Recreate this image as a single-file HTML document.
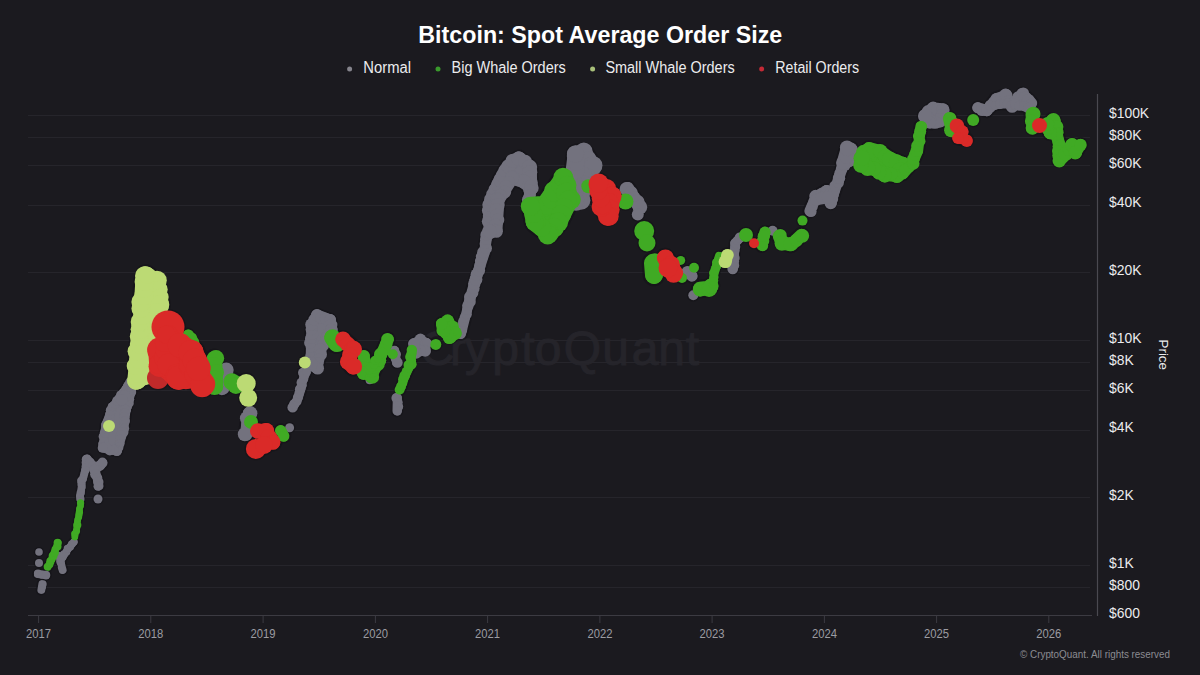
<!DOCTYPE html>
<html><head><meta charset="utf-8"><title>Bitcoin: Spot Average Order Size</title>
<style>html,body{margin:0;padding:0;background:#1b1a1f;width:1200px;height:675px;overflow:hidden}svg{display:block}text{font-family:"Liberation Sans",sans-serif}</style>
</head><body>
<svg width="1200" height="675" viewBox="0 0 1200 675" font-family="Liberation Sans, sans-serif">
<rect width="1200" height="675" fill="#1b1a1f"/>
<g font-size="48" fill="#25242a" stroke="#25242a" stroke-width="1" text-anchor="middle"><text x="437" y="365.3">C</text><text x="458" y="365.3">r</text><text x="477" y="365.3">y</text><text x="505.5" y="365.3">p</text><text x="528" y="365.3">t</text><text x="548" y="365.3">o</text><text x="582.5" y="365.3">Q</text><text x="615.5" y="365.3">u</text><text x="645" y="365.3">a</text><text x="671.5" y="365.3">n</text><text x="692.5" y="365.3">t</text></g>
<g stroke="#26252b" stroke-width="1"><line x1="28" y1="115.5" x2="1090" y2="115.5"/><line x1="28" y1="137.5" x2="1090" y2="137.5"/><line x1="28" y1="165.5" x2="1090" y2="165.5"/><line x1="28" y1="205.5" x2="1090" y2="205.5"/><line x1="28" y1="272.5" x2="1090" y2="272.5"/><line x1="28" y1="340.5" x2="1090" y2="340.5"/><line x1="28" y1="362.5" x2="1090" y2="362.5"/><line x1="28" y1="390.5" x2="1090" y2="390.5"/><line x1="28" y1="430.5" x2="1090" y2="430.5"/><line x1="28" y1="497.5" x2="1090" y2="497.5"/><line x1="28" y1="565.5" x2="1090" y2="565.5"/><line x1="28" y1="587.5" x2="1090" y2="587.5"/></g>
<g fill="none" stroke="#121116" stroke-linecap="round" stroke-linejoin="round" opacity="0.55"><path d="M39.0 552.0h0" stroke-width="10.2"/><path d="M39.0 563.0h0" stroke-width="10.6"/><path d="M38.0 574.0L46.0 575.0" stroke-width="11.6"/><path d="M42.0 584.0L41.0 590.0" stroke-width="10.6"/><path d="M48.0 567.0L53.0 556.0L58.0 543.0" stroke-width="10.6"/><path d="M59.0 556.0L63.0 570.0" stroke-width="10.6"/><path d="M61.0 560.0L68.0 549.0L74.0 542.0" stroke-width="10.6"/><path d="M75.0 537.0L77.0 525.0L79.0 512.0L81.0 503.0" stroke-width="9.6"/><path d="M80.0 499.0L82.0 481.0L85.0 470.0L87.0 459.0" stroke-width="10.6"/><path d="M87.0 459.0L95.0 470.0L103.0 463.0" stroke-width="12.6"/><path d="M95.0 470.0L99.0 486.0" stroke-width="12.6"/><path d="M98.0 499.0h0" stroke-width="11.6"/><path d="M103.0 448.0L106.0 425.0L113.0 407.0L122.0 396.0L128.0 386.0L133.0 379.0L131.0 392.0L126.0 410.0L123.0 432.0L117.0 451.0Z" fill="#121116" stroke-width="12.6"/><path d="M109.0 426.0h0" stroke-width="14.6"/><path d="M126.0 392.0L123.0 400.0" stroke-width="14.6"/><path d="M145.6 275.0L156.0 282.0L160.0 305.0L150.0 340.0L145.0 375.0L136.0 381.0L141.7 322.0L144.0 282.0Z" fill="#121116" stroke-width="21.6"/><path d="M158.0 378.0h0" stroke-width="24.6"/><path d="M159.0 350.0L160.0 365.0" stroke-width="26.6"/><path d="M168.0 327.0h0" stroke-width="35.6"/><path d="M168.0 335.0L190.0 355.0L202.0 380.0L178.0 378.0L160.0 365.0Z" fill="#121116" stroke-width="22.6"/><path d="M168.0 365.0L178.0 377.0L190.0 365.0L204.0 384.0" stroke-width="27.6"/><path d="M180.0 345.0L192.0 352.0L200.0 368.0" stroke-width="26.6"/><path d="M188.0 335.0L197.0 350.0" stroke-width="14.6"/><path d="M214.5 358.3L215.4 386.2" stroke-width="19.6"/><path d="M226.0 369.9L223.1 388.2" stroke-width="16.6"/><path d="M231.8 381.4L236.6 384.3" stroke-width="20.6"/><path d="M246.2 383.4h0" stroke-width="21.6"/><path d="M248.2 397.8h0" stroke-width="20.6"/><path d="M249.1 413.2L246.2 434.4" stroke-width="16.6"/><path d="M251.0 421.9h0" stroke-width="16.6"/><path d="M257.8 430.6L265.5 431.5L273.2 442.1" stroke-width="18.6"/><path d="M255.9 448.9h0" stroke-width="22.6"/><path d="M264.0 445.0h0" stroke-width="20.6"/><path d="M280.9 430.6L284.0 436.0" stroke-width="14.6"/><path d="M289.6 427.7h0" stroke-width="11.6"/><path d="M292.5 407.4L298.3 397.8L302.1 385.3" stroke-width="12.6"/><path d="M303.0 372.8h0" stroke-width="12.6"/><path d="M304.8 362.6h0" stroke-width="14.6"/><path d="M311.0 365.0L312.0 325.0L317.0 315.0L330.0 320.0L332.0 330.0L322.0 345.0L317.0 368.0Z" fill="#121116" stroke-width="14.6"/><path d="M302.0 383.0L306.0 372.0" stroke-width="12.6"/><path d="M331.7 337.6L336.0 344.0" stroke-width="19.6"/><path d="M342.8 339.4L353.0 348.7L348.3 361.7L353.0 367.2" stroke-width="18.6"/><path d="M364.0 356.1L364.0 372.8L371.5 376.5L378.9 359.8L388.1 339.4" stroke-width="15.6"/><path d="M370.0 370.0L382.0 352.0" stroke-width="12.6"/><path d="M369.6 380.2h0" stroke-width="10.6"/><path d="M394.6 350.6L396.5 362.6" stroke-width="12.6"/><path d="M392.8 354.3h0" stroke-width="12.6"/><path d="M397.3 398.0L397.0 411.0" stroke-width="12.6"/><path d="M400.0 390.0L405.0 376.0L410.7 364.0L412.0 350.0" stroke-width="12.6"/><path d="M408.5 365.0h0" stroke-width="12.6"/><path d="M414.0 344.0L420.0 340.0L426.0 343.0L425.0 350.0L416.0 352.0Z" fill="#121116" stroke-width="13.6"/><path d="M435.8 344.4h0" stroke-width="13.6"/><path d="M442.0 324.0L448.0 322.0L455.0 333.0L450.0 337.0L443.0 330.0Z" fill="#121116" stroke-width="15.6"/><path d="M461.0 334.0L468.1 306.0" stroke-width="13.6"/><path d="M468.1 306.0L475.6 279.3L484.4 252.6L487.0 235.0" stroke-width="14.6"/><path d="M490.0 232.0L490.0 205.0L500.0 180.0L508.0 166.0L519.0 158.0L530.0 167.0L531.0 188.0L524.0 182.0L512.0 178.0L498.0 200.0L496.0 230.0Z" fill="#121116" stroke-width="16.6"/><path d="M531.0 186.0L529.0 200.0" stroke-width="15.6"/><path d="M532.0 206.0L545.0 205.0L564.0 178.0L569.0 200.0L558.0 222.0L549.0 233.0L535.0 222.0Z" fill="#121116" stroke-width="22.6"/><path d="M576.0 154.0L584.0 153.0L592.0 166.0L586.0 176.0L580.0 200.0L576.0 200.0L574.0 170.0Z" fill="#121116" stroke-width="20.6"/><path d="M588.3 186.2h0" stroke-width="16.6"/><path d="M599.0 183.0L612.0 196.0L608.0 216.0L603.0 206.0Z" fill="#121116" stroke-width="21.6"/><path d="M627.8 188.2L639.4 207.4" stroke-width="16.6"/><path d="M625.5 201.5h0" stroke-width="18.6"/><path d="M637.8 214.4h0" stroke-width="14.6"/><path d="M644.2 231.0h0" stroke-width="22.6"/><path d="M647.0 243.0h0" stroke-width="19.6"/><path d="M653.0 263.0L654.0 275.0" stroke-width="22.6"/><path d="M665.0 258.0L675.0 273.0" stroke-width="20.6"/><path d="M668.0 268.0h0" stroke-width="21.6"/><path d="M680.7 260.4h0" stroke-width="11.6"/><path d="M682.0 278.0h0" stroke-width="12.6"/><path d="M687.0 272.0L692.0 276.0" stroke-width="14.6"/><path d="M694.0 267.8h0" stroke-width="12.6"/><path d="M700.0 289.0L709.0 288.0L711.0 286.0" stroke-width="18.6"/><path d="M693.3 295.2h0" stroke-width="12.6"/><path d="M712.0 284.0L716.0 266.0L719.0 256.0" stroke-width="11.6"/><path d="M727.0 255.0L726.0 262.0" stroke-width="15.6"/><path d="M733.0 269.0L735.0 243.0L740.0 238.0" stroke-width="12.6"/><path d="M746.0 235.0h0" stroke-width="16.6"/><path d="M762.0 245.6L765.0 232.2" stroke-width="14.6"/><path d="M754.0 243.3h0" stroke-width="12.6"/><path d="M772.6 230.7h0" stroke-width="12.6"/><path d="M764.0 236.0h0" stroke-width="14.6"/><path d="M779.0 236.0L782.0 243.0L791.0 245.0L801.5 235.0" stroke-width="16.6"/><path d="M802.5 220.6h0" stroke-width="12.6"/><path d="M809.8 211.0L816.0 196.8L826.4 190.5L830.5 203.0L838.8 178.0L845.0 160.0" stroke-width="14.6"/><path d="M847.0 149.0L851.0 149.0L850.0 160.0L843.0 163.0Z" fill="#121116" stroke-width="16.6"/><path d="M816.0 200.0L828.0 198.0" stroke-width="14.6"/><path d="M861.0 158.0L869.0 149.0L880.0 152.0L890.0 159.0L903.0 164.0L897.0 175.0L885.0 174.0L874.0 169.0L862.0 165.0Z" fill="#121116" stroke-width="17.6"/><path d="M903.0 174.0L912.3 163.3L917.7 151.0L920.8 126.3" stroke-width="14.6"/><path d="M925.0 116.0L933.0 109.0L943.0 110.0L940.0 121.0L930.0 122.0Z" fill="#121116" stroke-width="16.6"/><path d="M949.3 118.5L952.0 130.0" stroke-width="16.6"/><path d="M956.3 126.3L962.0 132.0" stroke-width="16.6"/><path d="M967.0 140.0L958.0 138.0" stroke-width="14.6"/><path d="M973.2 120.0h0" stroke-width="14.6"/><path d="M977.8 107.8L987.0 110.8L996.3 98.5L1005.6 95.4L1011.8 106.2L1022.5 93.9L1031.8 103.0" stroke-width="14.6"/><path d="M990.0 106.0L1000.0 104.0L1015.0 104.0L1028.0 108.0" stroke-width="12.6"/><path d="M1031.8 114.0L1033.0 128.0" stroke-width="16.6"/><path d="M1039.5 125.5h0" stroke-width="17.6"/><path d="M1051.8 120.0L1056.5 132.4L1059.6 146.3L1058.8 160.2L1065.7 154.0L1071.9 144.8L1075.7 152.5L1080.4 144.8" stroke-width="15.6"/><path d="M1048.0 124.0L1054.0 121.0L1057.0 133.0L1050.0 133.0Z" fill="#121116" stroke-width="15.6"/></g>
<g fill="none" stroke="#73727e" stroke-linecap="round" stroke-linejoin="round"><path d="M38.0 574.0L46.0 575.0" stroke-width="8.1"/><path d="M42.0 584.0L41.0 590.0" stroke-width="7.2"/><path d="M59.0 556.0L63.0 570.0" stroke-width="7.2"/><path d="M61.0 560.0L68.0 549.0L74.0 542.0" stroke-width="7.2"/><path d="M80.0 499.0L82.0 481.0L85.0 470.0L87.0 459.0" stroke-width="7.2"/><path d="M87.0 459.0L95.0 470.0L103.0 463.0" stroke-width="9.0"/><path d="M95.0 470.0L99.0 486.0" stroke-width="9.0"/><path d="M103.0 448.0L106.0 425.0L113.0 407.0L122.0 396.0L128.0 386.0L133.0 379.0L131.0 392.0L126.0 410.0L123.0 432.0L117.0 451.0Z" fill="#73727e" stroke-width="9.2"/><path d="M126.0 392.0L123.0 400.0" stroke-width="10.8"/><path d="M226.0 369.9L223.1 388.2" stroke-width="12.6"/><path d="M249.1 413.2L246.2 434.4" stroke-width="12.6"/><path d="M292.5 407.4L298.3 397.8L302.1 385.3" stroke-width="9.0"/><path d="M311.0 365.0L312.0 325.0L317.0 315.0L330.0 320.0L332.0 330.0L322.0 345.0L317.0 368.0Z" fill="#73727e" stroke-width="11.0"/><path d="M302.0 383.0L306.0 372.0" stroke-width="9.0"/><path d="M394.6 350.6L396.5 362.6" stroke-width="9.0"/><path d="M397.3 398.0L397.0 411.0" stroke-width="9.0"/><path d="M414.0 344.0L420.0 340.0L426.0 343.0L425.0 350.0L416.0 352.0Z" fill="#73727e" stroke-width="10.1"/><path d="M461.0 334.0L468.1 306.0" stroke-width="9.9"/><path d="M468.1 306.0L475.6 279.3L484.4 252.6L487.0 235.0" stroke-width="10.8"/><path d="M490.0 232.0L490.0 205.0L500.0 180.0L508.0 166.0L519.0 158.0L530.0 167.0L531.0 188.0L524.0 182.0L512.0 178.0L498.0 200.0L496.0 230.0Z" fill="#73727e" stroke-width="12.9"/><path d="M531.0 186.0L529.0 200.0" stroke-width="11.7"/><path d="M576.0 154.0L584.0 153.0L592.0 166.0L586.0 176.0L580.0 200.0L576.0 200.0L574.0 170.0Z" fill="#73727e" stroke-width="16.6"/><path d="M627.8 188.2L639.4 207.4" stroke-width="12.6"/><path d="M687.0 272.0L692.0 276.0" stroke-width="10.8"/><path d="M733.0 269.0L735.0 243.0L740.0 238.0" stroke-width="9.0"/><path d="M809.8 211.0L816.0 196.8L826.4 190.5L830.5 203.0L838.8 178.0L845.0 160.0" stroke-width="10.8"/><path d="M847.0 149.0L851.0 149.0L850.0 160.0L843.0 163.0Z" fill="#73727e" stroke-width="12.9"/><path d="M816.0 200.0L828.0 198.0" stroke-width="10.8"/><path d="M925.0 116.0L933.0 109.0L943.0 110.0L940.0 121.0L930.0 122.0Z" fill="#73727e" stroke-width="12.9"/><path d="M977.8 107.8L987.0 110.8L996.3 98.5L1005.6 95.4L1011.8 106.2L1022.5 93.9L1031.8 103.0" stroke-width="10.8"/><path d="M990.0 106.0L1000.0 104.0L1015.0 104.0L1028.0 108.0" stroke-width="9.0"/></g>
<g fill="#73727e"><circle cx="39.0" cy="552.0" r="3.8"/><circle cx="39.0" cy="563.0" r="4.0"/><circle cx="38.0" cy="573.7" r="4.1"/><circle cx="42.0" cy="574.8" r="4.0"/><circle cx="46.0" cy="575.1" r="4.3"/><circle cx="42.8" cy="584.1" r="3.9"/><circle cx="42.3" cy="587.1" r="3.8"/><circle cx="41.7" cy="590.1" r="3.6"/><circle cx="59.1" cy="556.0" r="4.1"/><circle cx="60.4" cy="558.6" r="3.7"/><circle cx="60.4" cy="561.7" r="4.2"/><circle cx="61.3" cy="564.4" r="3.8"/><circle cx="61.4" cy="567.4" r="3.6"/><circle cx="62.4" cy="570.2" r="3.7"/><circle cx="60.5" cy="559.7" r="3.6"/><circle cx="62.5" cy="557.1" r="4.1"/><circle cx="64.0" cy="554.2" r="3.9"/><circle cx="66.5" cy="551.9" r="3.8"/><circle cx="68.1" cy="549.0" r="3.6"/><circle cx="67.4" cy="548.5" r="3.7"/><circle cx="70.2" cy="546.9" r="3.8"/><circle cx="71.8" cy="544.1" r="3.9"/><circle cx="73.9" cy="541.9" r="3.7"/><circle cx="80.5" cy="499.1" r="4.0"/><circle cx="79.9" cy="496.0" r="3.9"/><circle cx="80.7" cy="493.0" r="4.2"/><circle cx="81.4" cy="490.0" r="3.7"/><circle cx="82.2" cy="487.1" r="3.6"/><circle cx="81.5" cy="484.0" r="4.1"/><circle cx="81.4" cy="480.9" r="3.9"/><circle cx="81.2" cy="480.8" r="4.0"/><circle cx="83.2" cy="478.4" r="3.9"/><circle cx="84.1" cy="475.7" r="3.7"/><circle cx="84.6" cy="472.8" r="3.9"/><circle cx="85.1" cy="470.0" r="3.8"/><circle cx="85.6" cy="470.1" r="4.2"/><circle cx="85.6" cy="466.3" r="4.0"/><circle cx="85.6" cy="462.5" r="4.0"/><circle cx="87.3" cy="459.0" r="4.2"/><circle cx="86.4" cy="459.4" r="4.7"/><circle cx="89.9" cy="462.5" r="5.0"/><circle cx="93.2" cy="465.7" r="4.8"/><circle cx="95.6" cy="469.6" r="4.5"/><circle cx="94.4" cy="469.3" r="5.1"/><circle cx="97.1" cy="467.1" r="4.6"/><circle cx="100.2" cy="465.2" r="5.2"/><circle cx="102.4" cy="462.3" r="4.8"/><circle cx="94.9" cy="470.0" r="5.2"/><circle cx="95.3" cy="474.2" r="5.2"/><circle cx="97.5" cy="477.9" r="4.8"/><circle cx="98.3" cy="481.9" r="5.2"/><circle cx="98.0" cy="486.2" r="4.5"/><circle cx="98.0" cy="499.0" r="4.5"/><circle cx="102.3" cy="447.9" r="4.6"/><circle cx="102.9" cy="444.1" r="4.8"/><circle cx="104.2" cy="440.4" r="4.6"/><circle cx="103.4" cy="436.4" r="4.8"/><circle cx="104.7" cy="432.6" r="4.9"/><circle cx="106.5" cy="429.0" r="5.0"/><circle cx="106.0" cy="425.0" r="5.0"/><circle cx="106.4" cy="425.1" r="4.4"/><circle cx="108.2" cy="421.7" r="5.1"/><circle cx="109.6" cy="418.1" r="5.1"/><circle cx="110.0" cy="414.1" r="4.8"/><circle cx="110.8" cy="410.3" r="5.0"/><circle cx="112.1" cy="406.7" r="4.5"/><circle cx="112.5" cy="406.6" r="4.5"/><circle cx="115.0" cy="404.0" r="4.4"/><circle cx="116.6" cy="400.8" r="4.5"/><circle cx="119.1" cy="398.2" r="4.7"/><circle cx="121.2" cy="395.3" r="5.2"/><circle cx="122.2" cy="396.1" r="4.5"/><circle cx="123.5" cy="392.4" r="4.7"/><circle cx="125.7" cy="389.2" r="4.5"/><circle cx="128.7" cy="386.4" r="5.3"/><circle cx="127.9" cy="386.0" r="4.8"/><circle cx="129.8" cy="382.0" r="4.5"/><circle cx="132.7" cy="378.8" r="4.6"/><circle cx="132.3" cy="378.9" r="4.5"/><circle cx="133.4" cy="383.5" r="5.3"/><circle cx="131.6" cy="387.7" r="4.5"/><circle cx="130.9" cy="392.0" r="4.4"/><circle cx="130.9" cy="392.0" r="5.3"/><circle cx="129.2" cy="395.4" r="5.0"/><circle cx="129.5" cy="399.3" r="4.7"/><circle cx="128.7" cy="403.0" r="5.1"/><circle cx="126.9" cy="406.4" r="5.1"/><circle cx="126.4" cy="410.1" r="4.6"/><circle cx="125.3" cy="409.9" r="5.3"/><circle cx="124.7" cy="413.6" r="5.1"/><circle cx="124.3" cy="417.2" r="5.1"/><circle cx="125.1" cy="421.1" r="4.9"/><circle cx="124.3" cy="424.7" r="4.4"/><circle cx="124.5" cy="428.5" r="4.7"/><circle cx="123.5" cy="432.1" r="5.0"/><circle cx="122.0" cy="431.7" r="4.8"/><circle cx="120.9" cy="435.5" r="5.3"/><circle cx="119.6" cy="439.3" r="4.7"/><circle cx="120.0" cy="443.6" r="4.6"/><circle cx="118.8" cy="447.4" r="4.6"/><circle cx="116.7" cy="450.9" r="5.2"/><circle cx="117.2" cy="450.3" r="4.8"/><circle cx="113.6" cy="449.9" r="5.1"/><circle cx="109.8" cy="450.4" r="5.0"/><circle cx="106.7" cy="447.9" r="5.1"/><circle cx="103.1" cy="447.5" r="4.8"/><circle cx="126.8" cy="392.3" r="6.1"/><circle cx="124.9" cy="396.2" r="6.1"/><circle cx="121.8" cy="399.6" r="5.7"/><circle cx="226.3" cy="369.9" r="7.4"/><circle cx="224.3" cy="375.9" r="6.4"/><circle cx="225.2" cy="382.3" r="6.4"/><circle cx="221.9" cy="388.0" r="7.2"/><circle cx="250.2" cy="413.3" r="7.2"/><circle cx="246.9" cy="418.3" r="7.0"/><circle cx="248.1" cy="423.9" r="6.9"/><circle cx="248.1" cy="429.3" r="6.2"/><circle cx="244.8" cy="434.2" r="7.0"/><circle cx="289.6" cy="427.7" r="4.5"/><circle cx="292.6" cy="407.4" r="5.2"/><circle cx="294.3" cy="404.1" r="5.2"/><circle cx="297.0" cy="401.4" r="4.6"/><circle cx="297.8" cy="397.5" r="4.7"/><circle cx="297.8" cy="397.6" r="4.9"/><circle cx="299.1" cy="393.5" r="4.8"/><circle cx="300.1" cy="389.2" r="5.2"/><circle cx="301.8" cy="385.2" r="4.8"/><circle cx="303.0" cy="372.8" r="5.0"/><circle cx="311.2" cy="365.0" r="6.3"/><circle cx="310.9" cy="360.6" r="6.3"/><circle cx="311.2" cy="356.1" r="5.9"/><circle cx="311.4" cy="351.7" r="5.3"/><circle cx="311.3" cy="347.2" r="5.5"/><circle cx="310.2" cy="342.7" r="6.1"/><circle cx="310.8" cy="338.3" r="5.8"/><circle cx="312.4" cy="333.9" r="5.9"/><circle cx="311.4" cy="329.4" r="5.8"/><circle cx="312.1" cy="325.0" r="6.1"/><circle cx="311.1" cy="324.5" r="5.9"/><circle cx="313.9" cy="319.7" r="5.6"/><circle cx="317.6" cy="315.3" r="5.8"/><circle cx="316.9" cy="315.2" r="6.1"/><circle cx="320.9" cy="317.7" r="5.8"/><circle cx="325.6" cy="318.6" r="5.8"/><circle cx="330.0" cy="320.0" r="6.0"/><circle cx="330.1" cy="320.0" r="5.9"/><circle cx="331.1" cy="325.0" r="6.3"/><circle cx="331.5" cy="330.1" r="6.2"/><circle cx="331.0" cy="329.4" r="5.6"/><circle cx="329.4" cy="333.7" r="6.3"/><circle cx="326.3" cy="337.0" r="5.4"/><circle cx="325.3" cy="341.8" r="5.8"/><circle cx="322.9" cy="345.6" r="5.5"/><circle cx="323.1" cy="345.2" r="6.0"/><circle cx="320.3" cy="349.4" r="6.2"/><circle cx="320.9" cy="354.4" r="6.1"/><circle cx="318.6" cy="358.7" r="5.4"/><circle cx="317.0" cy="363.2" r="6.3"/><circle cx="317.7" cy="368.2" r="6.3"/><circle cx="316.9" cy="368.2" r="5.8"/><circle cx="311.6" cy="363.8" r="6.2"/><circle cx="301.3" cy="382.7" r="4.8"/><circle cx="303.4" cy="379.3" r="4.7"/><circle cx="304.0" cy="375.4" r="4.7"/><circle cx="306.5" cy="372.2" r="4.4"/><circle cx="369.6" cy="380.2" r="4.0"/><circle cx="394.5" cy="350.6" r="4.8"/><circle cx="396.3" cy="354.4" r="4.7"/><circle cx="395.6" cy="358.6" r="4.9"/><circle cx="397.4" cy="362.5" r="5.3"/><circle cx="396.7" cy="398.0" r="5.3"/><circle cx="398.1" cy="402.4" r="4.6"/><circle cx="398.1" cy="406.7" r="5.1"/><circle cx="397.5" cy="411.0" r="4.5"/><circle cx="413.9" cy="343.8" r="5.7"/><circle cx="420.4" cy="340.6" r="5.1"/><circle cx="420.4" cy="339.2" r="5.7"/><circle cx="425.9" cy="343.2" r="5.5"/><circle cx="427.0" cy="343.1" r="4.9"/><circle cx="424.5" cy="349.9" r="5.3"/><circle cx="425.2" cy="351.0" r="5.8"/><circle cx="420.4" cy="350.7" r="5.6"/><circle cx="416.2" cy="353.0" r="5.7"/><circle cx="415.0" cy="352.3" r="5.7"/><circle cx="414.9" cy="348.0" r="5.2"/><circle cx="414.1" cy="344.0" r="5.8"/><circle cx="460.5" cy="333.9" r="5.0"/><circle cx="462.1" cy="330.0" r="5.1"/><circle cx="462.1" cy="325.8" r="5.0"/><circle cx="463.0" cy="321.7" r="5.0"/><circle cx="464.6" cy="317.9" r="5.1"/><circle cx="466.7" cy="314.2" r="5.1"/><circle cx="467.1" cy="310.0" r="5.0"/><circle cx="467.7" cy="305.9" r="4.9"/><circle cx="467.5" cy="305.8" r="5.3"/><circle cx="469.9" cy="301.7" r="5.9"/><circle cx="469.8" cy="296.9" r="5.8"/><circle cx="473.0" cy="293.0" r="5.4"/><circle cx="473.9" cy="288.4" r="5.7"/><circle cx="474.3" cy="283.7" r="6.2"/><circle cx="475.3" cy="279.2" r="5.8"/><circle cx="476.1" cy="279.5" r="6.3"/><circle cx="476.7" cy="274.7" r="6.2"/><circle cx="479.1" cy="270.6" r="6.0"/><circle cx="479.8" cy="265.9" r="5.7"/><circle cx="480.3" cy="261.1" r="5.4"/><circle cx="481.9" cy="256.7" r="6.1"/><circle cx="483.8" cy="252.4" r="5.5"/><circle cx="483.3" cy="252.4" r="6.2"/><circle cx="486.0" cy="248.3" r="6.0"/><circle cx="485.1" cy="243.7" r="5.5"/><circle cx="485.8" cy="239.3" r="5.8"/><circle cx="486.1" cy="234.9" r="5.8"/><circle cx="489.3" cy="232.0" r="7.4"/><circle cx="491.5" cy="226.6" r="6.8"/><circle cx="489.2" cy="221.2" r="7.4"/><circle cx="489.4" cy="215.8" r="6.6"/><circle cx="488.5" cy="210.4" r="6.6"/><circle cx="489.9" cy="205.0" r="6.8"/><circle cx="489.1" cy="204.7" r="6.8"/><circle cx="490.6" cy="199.4" r="6.5"/><circle cx="492.8" cy="194.5" r="6.7"/><circle cx="494.7" cy="189.5" r="6.2"/><circle cx="497.4" cy="184.8" r="6.5"/><circle cx="500.2" cy="180.1" r="6.8"/><circle cx="500.7" cy="180.4" r="7.0"/><circle cx="503.2" cy="175.7" r="7.3"/><circle cx="505.0" cy="170.5" r="6.6"/><circle cx="509.3" cy="166.7" r="6.3"/><circle cx="508.4" cy="166.6" r="7.0"/><circle cx="512.7" cy="160.9" r="7.2"/><circle cx="519.7" cy="159.0" r="7.0"/><circle cx="518.5" cy="158.6" r="7.2"/><circle cx="525.2" cy="161.6" r="6.8"/><circle cx="530.0" cy="167.0" r="7.2"/><circle cx="529.1" cy="167.0" r="7.2"/><circle cx="530.0" cy="172.3" r="7.3"/><circle cx="529.9" cy="177.5" r="7.0"/><circle cx="531.6" cy="182.7" r="6.2"/><circle cx="532.1" cy="187.9" r="6.6"/><circle cx="530.2" cy="188.9" r="7.2"/><circle cx="524.1" cy="181.9" r="7.0"/><circle cx="524.1" cy="181.6" r="7.0"/><circle cx="518.0" cy="180.0" r="6.2"/><circle cx="512.3" cy="177.1" r="7.1"/><circle cx="512.0" cy="178.0" r="6.8"/><circle cx="508.8" cy="182.1" r="6.2"/><circle cx="505.8" cy="186.4" r="6.5"/><circle cx="504.7" cy="191.9" r="6.5"/><circle cx="500.2" cy="195.2" r="6.4"/><circle cx="497.4" cy="199.6" r="7.4"/><circle cx="498.0" cy="200.0" r="6.6"/><circle cx="497.7" cy="205.0" r="7.0"/><circle cx="496.5" cy="209.9" r="6.9"/><circle cx="496.6" cy="215.0" r="6.3"/><circle cx="497.8" cy="220.1" r="6.5"/><circle cx="495.6" cy="225.0" r="6.5"/><circle cx="495.8" cy="230.0" r="6.2"/><circle cx="496.4" cy="231.3" r="6.5"/><circle cx="489.8" cy="231.5" r="7.0"/><circle cx="530.5" cy="185.9" r="6.1"/><circle cx="530.3" cy="190.7" r="6.3"/><circle cx="529.8" cy="195.3" r="5.9"/><circle cx="527.9" cy="199.8" r="6.0"/><circle cx="576.2" cy="155.9" r="9.4"/><circle cx="583.8" cy="151.1" r="8.7"/><circle cx="582.9" cy="153.7" r="9.5"/><circle cx="588.2" cy="159.4" r="8.4"/><circle cx="593.0" cy="165.4" r="9.5"/><circle cx="593.0" cy="166.6" r="8.9"/><circle cx="587.2" cy="176.7" r="8.8"/><circle cx="584.3" cy="175.6" r="8.1"/><circle cx="582.8" cy="183.7" r="8.7"/><circle cx="580.5" cy="191.6" r="9.1"/><circle cx="581.0" cy="200.3" r="9.4"/><circle cx="580.0" cy="200.1" r="8.0"/><circle cx="576.0" cy="202.0" r="8.7"/><circle cx="575.8" cy="200.0" r="8.4"/><circle cx="574.1" cy="192.6" r="8.5"/><circle cx="574.3" cy="185.0" r="9.3"/><circle cx="572.5" cy="177.6" r="9.1"/><circle cx="575.3" cy="169.9" r="8.1"/><circle cx="575.7" cy="170.2" r="9.1"/><circle cx="576.6" cy="162.2" r="8.4"/><circle cx="575.5" cy="153.9" r="8.6"/><circle cx="626.5" cy="189.0" r="6.9"/><circle cx="631.1" cy="192.8" r="6.7"/><circle cx="634.2" cy="197.4" r="6.2"/><circle cx="637.5" cy="202.0" r="7.2"/><circle cx="640.0" cy="207.1" r="7.3"/><circle cx="637.8" cy="214.4" r="6.0"/><circle cx="687.4" cy="271.5" r="5.6"/><circle cx="692.0" cy="276.0" r="5.5"/><circle cx="693.3" cy="295.2" r="5.0"/><circle cx="732.7" cy="269.0" r="5.3"/><circle cx="734.1" cy="265.4" r="5.1"/><circle cx="733.9" cy="261.6" r="5.2"/><circle cx="734.8" cy="257.9" r="4.9"/><circle cx="734.6" cy="254.2" r="4.4"/><circle cx="734.9" cy="250.5" r="4.8"/><circle cx="735.3" cy="246.8" r="5.0"/><circle cx="734.5" cy="243.0" r="4.4"/><circle cx="735.7" cy="243.7" r="4.5"/><circle cx="737.5" cy="240.5" r="4.7"/><circle cx="739.7" cy="237.7" r="5.1"/><circle cx="772.6" cy="230.7" r="5.0"/><circle cx="811.0" cy="211.5" r="5.6"/><circle cx="812.2" cy="206.4" r="5.6"/><circle cx="814.1" cy="201.6" r="5.7"/><circle cx="815.2" cy="196.4" r="5.5"/><circle cx="815.6" cy="196.1" r="6.3"/><circle cx="821.2" cy="193.6" r="5.5"/><circle cx="827.0" cy="191.4" r="6.4"/><circle cx="826.5" cy="190.5" r="5.4"/><circle cx="828.5" cy="194.4" r="5.4"/><circle cx="829.5" cy="198.7" r="5.4"/><circle cx="831.2" cy="202.8" r="5.6"/><circle cx="830.7" cy="203.1" r="6.2"/><circle cx="832.5" cy="199.0" r="5.7"/><circle cx="833.1" cy="194.6" r="5.8"/><circle cx="834.3" cy="190.4" r="5.6"/><circle cx="834.9" cy="186.0" r="5.6"/><circle cx="838.6" cy="182.6" r="5.4"/><circle cx="838.8" cy="178.0" r="6.0"/><circle cx="839.7" cy="178.3" r="5.5"/><circle cx="839.8" cy="173.3" r="5.5"/><circle cx="841.6" cy="168.9" r="5.8"/><circle cx="844.6" cy="164.9" r="6.2"/><circle cx="845.9" cy="160.3" r="5.3"/><circle cx="847.0" cy="147.6" r="7.1"/><circle cx="851.0" cy="150.2" r="6.8"/><circle cx="850.7" cy="149.0" r="6.2"/><circle cx="850.8" cy="154.5" r="7.3"/><circle cx="849.0" cy="159.9" r="7.2"/><circle cx="849.4" cy="158.7" r="6.5"/><circle cx="843.5" cy="164.1" r="6.4"/><circle cx="843.1" cy="163.0" r="7.0"/><circle cx="846.3" cy="156.4" r="7.1"/><circle cx="847.4" cy="149.1" r="7.1"/><circle cx="816.0" cy="199.9" r="5.9"/><circle cx="821.8" cy="197.8" r="6.1"/><circle cx="827.9" cy="197.3" r="6.3"/><circle cx="925.3" cy="116.3" r="6.5"/><circle cx="928.2" cy="111.6" r="6.5"/><circle cx="933.3" cy="109.3" r="7.0"/><circle cx="933.1" cy="107.8" r="6.2"/><circle cx="938.0" cy="109.6" r="6.9"/><circle cx="943.0" cy="109.7" r="6.4"/><circle cx="942.7" cy="109.9" r="6.2"/><circle cx="942.1" cy="115.7" r="6.7"/><circle cx="938.6" cy="120.6" r="7.0"/><circle cx="939.9" cy="119.8" r="6.8"/><circle cx="935.1" cy="122.3" r="6.5"/><circle cx="929.9" cy="120.6" r="7.0"/><circle cx="929.5" cy="122.4" r="6.2"/><circle cx="925.0" cy="116.0" r="7.0"/><circle cx="977.9" cy="107.6" r="5.6"/><circle cx="982.3" cy="109.7" r="6.3"/><circle cx="987.2" cy="110.1" r="5.3"/><circle cx="986.7" cy="110.5" r="5.7"/><circle cx="990.5" cy="107.0" r="5.5"/><circle cx="993.8" cy="103.1" r="6.1"/><circle cx="996.3" cy="98.5" r="5.5"/><circle cx="996.7" cy="99.7" r="5.6"/><circle cx="1001.2" cy="97.8" r="5.5"/><circle cx="1005.4" cy="94.7" r="6.1"/><circle cx="1006.1" cy="95.1" r="6.3"/><circle cx="1008.7" cy="100.8" r="5.5"/><circle cx="1012.4" cy="105.8" r="5.7"/><circle cx="1012.1" cy="106.5" r="6.3"/><circle cx="1014.7" cy="101.5" r="5.7"/><circle cx="1018.4" cy="97.5" r="6.3"/><circle cx="1021.8" cy="93.3" r="5.3"/><circle cx="1023.3" cy="93.1" r="5.7"/><circle cx="1024.9" cy="97.7" r="6.2"/><circle cx="1028.3" cy="100.4" r="6.4"/><circle cx="1031.0" cy="103.8" r="5.6"/><circle cx="989.9" cy="105.3" r="5.2"/><circle cx="995.1" cy="105.5" r="4.4"/><circle cx="1000.1" cy="104.4" r="4.7"/><circle cx="1000.0" cy="103.7" r="4.7"/><circle cx="1003.8" cy="103.3" r="4.4"/><circle cx="1007.5" cy="103.5" r="4.7"/><circle cx="1011.2" cy="105.0" r="4.5"/><circle cx="1015.0" cy="105.0" r="4.6"/><circle cx="1015.1" cy="103.7" r="5.1"/><circle cx="1019.1" cy="106.0" r="4.8"/><circle cx="1024.0" cy="105.7" r="4.8"/><circle cx="1028.1" cy="107.7" r="5.2"/></g>
<g fill="none" stroke="#40aa24" stroke-linecap="round" stroke-linejoin="round"><path d="M48.0 567.0L53.0 556.0L58.0 543.0" stroke-width="7.2"/><path d="M75.0 537.0L77.0 525.0L79.0 512.0L81.0 503.0" stroke-width="6.3"/><path d="M188.0 335.0L197.0 350.0" stroke-width="10.8"/><path d="M214.5 358.3L215.4 386.2" stroke-width="15.3"/><path d="M231.8 381.4L236.6 384.3" stroke-width="16.2"/><path d="M280.9 430.6L284.0 436.0" stroke-width="10.8"/><path d="M331.7 337.6L336.0 344.0" stroke-width="15.3"/><path d="M364.0 356.1L364.0 372.8L371.5 376.5L378.9 359.8L388.1 339.4" stroke-width="11.7"/><path d="M370.0 370.0L382.0 352.0" stroke-width="9.0"/><path d="M400.0 390.0L405.0 376.0L410.7 364.0L412.0 350.0" stroke-width="9.0"/><path d="M442.0 324.0L448.0 322.0L455.0 333.0L450.0 337.0L443.0 330.0Z" fill="#40aa24" stroke-width="12.0"/><path d="M532.0 206.0L545.0 205.0L564.0 178.0L569.0 200.0L558.0 222.0L549.0 233.0L535.0 222.0Z" fill="#40aa24" stroke-width="18.4"/><path d="M653.0 263.0L654.0 275.0" stroke-width="18.0"/><path d="M700.0 289.0L709.0 288.0L711.0 286.0" stroke-width="14.4"/><path d="M712.0 284.0L716.0 266.0L719.0 256.0" stroke-width="8.1"/><path d="M762.0 245.6L765.0 232.2" stroke-width="10.8"/><path d="M779.0 236.0L782.0 243.0L791.0 245.0L801.5 235.0" stroke-width="12.6"/><path d="M861.0 158.0L869.0 149.0L880.0 152.0L890.0 159.0L903.0 164.0L897.0 175.0L885.0 174.0L874.0 169.0L862.0 165.0Z" fill="#40aa24" stroke-width="13.8"/><path d="M903.0 174.0L912.3 163.3L917.7 151.0L920.8 126.3" stroke-width="10.8"/><path d="M949.3 118.5L952.0 130.0" stroke-width="12.6"/><path d="M1031.8 114.0L1033.0 128.0" stroke-width="12.6"/><path d="M1051.8 120.0L1056.5 132.4L1059.6 146.3L1058.8 160.2L1065.7 154.0L1071.9 144.8L1075.7 152.5L1080.4 144.8" stroke-width="11.7"/><path d="M1048.0 124.0L1054.0 121.0L1057.0 133.0L1050.0 133.0Z" fill="#40aa24" stroke-width="12.0"/></g>
<g fill="#40aa24"><circle cx="47.5" cy="566.8" r="3.8"/><circle cx="49.9" cy="564.5" r="3.5"/><circle cx="50.4" cy="561.4" r="4.1"/><circle cx="52.2" cy="558.9" r="3.5"/><circle cx="52.3" cy="555.7" r="3.6"/><circle cx="53.7" cy="556.3" r="3.7"/><circle cx="54.7" cy="552.9" r="4.2"/><circle cx="55.2" cy="549.4" r="3.7"/><circle cx="57.5" cy="546.5" r="4.0"/><circle cx="57.6" cy="542.8" r="4.0"/><circle cx="74.7" cy="537.0" r="3.3"/><circle cx="74.7" cy="533.9" r="3.6"/><circle cx="76.6" cy="531.1" r="3.5"/><circle cx="77.2" cy="528.1" r="3.1"/><circle cx="76.6" cy="524.9" r="3.4"/><circle cx="77.7" cy="525.1" r="3.7"/><circle cx="77.2" cy="522.4" r="3.2"/><circle cx="77.7" cy="519.8" r="3.4"/><circle cx="78.9" cy="517.3" r="3.2"/><circle cx="79.1" cy="514.7" r="3.5"/><circle cx="79.5" cy="512.1" r="3.6"/><circle cx="79.2" cy="512.0" r="3.3"/><circle cx="79.4" cy="508.9" r="3.3"/><circle cx="80.8" cy="506.1" r="3.1"/><circle cx="80.5" cy="502.9" r="3.6"/><circle cx="188.6" cy="334.7" r="5.3"/><circle cx="191.3" cy="338.1" r="5.9"/><circle cx="192.9" cy="342.3" r="6.3"/><circle cx="193.9" cy="346.8" r="6.3"/><circle cx="197.5" cy="349.7" r="5.4"/><circle cx="216.0" cy="358.3" r="8.2"/><circle cx="213.9" cy="365.3" r="8.2"/><circle cx="215.9" cy="372.2" r="8.1"/><circle cx="214.7" cy="379.2" r="8.5"/><circle cx="214.5" cy="386.2" r="8.8"/><circle cx="231.5" cy="382.0" r="8.1"/><circle cx="235.9" cy="385.5" r="8.4"/><circle cx="251.0" cy="421.9" r="7.0"/><circle cx="280.7" cy="430.7" r="5.7"/><circle cx="283.5" cy="436.3" r="5.5"/><circle cx="332.5" cy="337.1" r="7.9"/><circle cx="337.1" cy="343.3" r="8.8"/><circle cx="363.8" cy="356.1" r="6.1"/><circle cx="364.3" cy="361.7" r="6.9"/><circle cx="364.0" cy="367.2" r="6.0"/><circle cx="363.1" cy="372.8" r="6.5"/><circle cx="363.4" cy="374.1" r="5.8"/><circle cx="371.5" cy="376.4" r="6.7"/><circle cx="372.4" cy="376.9" r="6.8"/><circle cx="372.1" cy="371.8" r="6.1"/><circle cx="374.2" cy="367.7" r="5.9"/><circle cx="378.3" cy="364.5" r="6.4"/><circle cx="380.0" cy="360.3" r="6.2"/><circle cx="379.9" cy="360.2" r="6.2"/><circle cx="380.6" cy="354.4" r="6.6"/><circle cx="384.7" cy="350.1" r="5.8"/><circle cx="386.1" cy="344.6" r="6.4"/><circle cx="387.4" cy="339.1" r="6.2"/><circle cx="369.3" cy="369.6" r="4.6"/><circle cx="371.6" cy="366.7" r="4.9"/><circle cx="374.3" cy="364.2" r="4.6"/><circle cx="375.1" cy="360.4" r="4.7"/><circle cx="378.3" cy="358.2" r="4.6"/><circle cx="379.7" cy="354.8" r="4.6"/><circle cx="382.5" cy="352.4" r="4.9"/><circle cx="392.8" cy="354.3" r="5.0"/><circle cx="399.1" cy="389.7" r="4.5"/><circle cx="401.0" cy="386.4" r="4.9"/><circle cx="402.8" cy="383.1" r="4.5"/><circle cx="403.1" cy="379.3" r="5.0"/><circle cx="404.8" cy="375.9" r="4.7"/><circle cx="404.6" cy="375.8" r="5.3"/><circle cx="406.5" cy="371.8" r="4.9"/><circle cx="408.5" cy="367.9" r="4.8"/><circle cx="411.4" cy="364.3" r="5.3"/><circle cx="410.4" cy="364.0" r="4.6"/><circle cx="411.5" cy="360.5" r="4.6"/><circle cx="410.3" cy="356.9" r="5.2"/><circle cx="411.5" cy="353.5" r="5.1"/><circle cx="411.8" cy="350.0" r="5.2"/><circle cx="408.5" cy="365.0" r="5.0"/><circle cx="435.8" cy="344.4" r="5.5"/><circle cx="442.0" cy="323.9" r="5.9"/><circle cx="447.6" cy="320.7" r="6.4"/><circle cx="447.7" cy="322.2" r="6.8"/><circle cx="452.5" cy="326.9" r="6.4"/><circle cx="455.3" cy="332.8" r="6.3"/><circle cx="455.6" cy="333.8" r="6.1"/><circle cx="450.0" cy="337.0" r="6.8"/><circle cx="449.2" cy="337.8" r="6.3"/><circle cx="447.1" cy="332.9" r="6.9"/><circle cx="442.4" cy="330.6" r="5.9"/><circle cx="444.2" cy="329.8" r="6.9"/><circle cx="442.0" cy="324.0" r="5.8"/><circle cx="532.1" cy="207.9" r="9.5"/><circle cx="545.1" cy="206.8" r="9.9"/><circle cx="546.2" cy="205.8" r="9.1"/><circle cx="550.8" cy="199.0" r="9.2"/><circle cx="554.2" cy="191.3" r="10.3"/><circle cx="560.4" cy="185.6" r="9.1"/><circle cx="563.0" cy="177.3" r="9.5"/><circle cx="563.9" cy="178.0" r="9.5"/><circle cx="567.3" cy="185.0" r="9.2"/><circle cx="566.4" cy="192.9" r="10.4"/><circle cx="571.0" cy="199.6" r="9.8"/><circle cx="568.0" cy="199.5" r="8.9"/><circle cx="564.0" cy="206.7" r="9.0"/><circle cx="561.3" cy="214.5" r="9.8"/><circle cx="557.5" cy="221.8" r="9.4"/><circle cx="558.3" cy="222.2" r="9.8"/><circle cx="553.8" cy="227.7" r="10.0"/><circle cx="549.2" cy="233.1" r="9.6"/><circle cx="547.7" cy="234.6" r="9.9"/><circle cx="542.0" cy="227.5" r="9.2"/><circle cx="535.7" cy="221.1" r="10.2"/><circle cx="534.8" cy="222.0" r="9.1"/><circle cx="533.4" cy="214.0" r="9.0"/><circle cx="530.4" cy="206.3" r="9.6"/><circle cx="588.3" cy="186.2" r="7.0"/><circle cx="625.5" cy="201.5" r="8.0"/><circle cx="644.2" cy="231.0" r="10.0"/><circle cx="647.0" cy="243.0" r="8.5"/><circle cx="654.8" cy="262.9" r="9.6"/><circle cx="654.0" cy="275.0" r="8.9"/><circle cx="680.7" cy="260.4" r="4.5"/><circle cx="682.0" cy="278.0" r="5.0"/><circle cx="694.0" cy="267.8" r="5.0"/><circle cx="700.1" cy="289.5" r="7.2"/><circle cx="709.1" cy="288.8" r="8.2"/><circle cx="709.0" cy="288.0" r="7.1"/><circle cx="711.0" cy="286.0" r="7.6"/><circle cx="712.9" cy="284.2" r="4.1"/><circle cx="713.5" cy="280.6" r="4.8"/><circle cx="714.0" cy="276.9" r="4.6"/><circle cx="713.8" cy="273.1" r="4.8"/><circle cx="715.2" cy="269.6" r="4.7"/><circle cx="716.8" cy="266.2" r="4.1"/><circle cx="716.5" cy="266.2" r="4.7"/><circle cx="716.2" cy="262.4" r="4.2"/><circle cx="718.5" cy="259.5" r="4.1"/><circle cx="719.8" cy="256.2" r="4.2"/><circle cx="746.0" cy="235.0" r="7.0"/><circle cx="762.8" cy="245.8" r="5.4"/><circle cx="763.0" cy="241.1" r="6.3"/><circle cx="763.2" cy="236.5" r="5.6"/><circle cx="765.0" cy="232.2" r="5.6"/><circle cx="764.0" cy="236.0" r="6.0"/><circle cx="780.3" cy="235.4" r="6.4"/><circle cx="783.0" cy="242.6" r="7.3"/><circle cx="781.9" cy="243.5" r="7.3"/><circle cx="791.2" cy="244.0" r="7.1"/><circle cx="790.2" cy="244.1" r="6.8"/><circle cx="796.5" cy="240.3" r="6.6"/><circle cx="802.3" cy="235.8" r="6.9"/><circle cx="802.5" cy="220.6" r="5.0"/><circle cx="861.2" cy="158.2" r="7.8"/><circle cx="864.0" cy="152.6" r="7.9"/><circle cx="869.3" cy="149.3" r="7.1"/><circle cx="868.7" cy="149.9" r="7.0"/><circle cx="874.1" cy="152.1" r="7.4"/><circle cx="880.1" cy="151.6" r="7.6"/><circle cx="880.1" cy="151.8" r="6.8"/><circle cx="884.5" cy="156.2" r="6.7"/><circle cx="889.4" cy="159.9" r="6.9"/><circle cx="889.8" cy="159.4" r="7.9"/><circle cx="896.4" cy="161.8" r="7.5"/><circle cx="903.2" cy="163.4" r="6.6"/><circle cx="904.4" cy="164.7" r="6.8"/><circle cx="899.7" cy="169.3" r="7.2"/><circle cx="897.0" cy="175.0" r="7.8"/><circle cx="896.9" cy="176.2" r="6.9"/><circle cx="891.0" cy="174.0" r="6.6"/><circle cx="884.9" cy="175.6" r="7.1"/><circle cx="884.5" cy="175.2" r="7.1"/><circle cx="879.1" cy="172.3" r="7.4"/><circle cx="874.1" cy="168.7" r="6.9"/><circle cx="874.1" cy="168.6" r="7.2"/><circle cx="867.6" cy="168.1" r="7.9"/><circle cx="861.7" cy="165.8" r="6.8"/><circle cx="860.7" cy="165.2" r="7.5"/><circle cx="862.2" cy="157.8" r="7.7"/><circle cx="902.8" cy="173.8" r="5.6"/><circle cx="905.1" cy="169.6" r="6.0"/><circle cx="909.3" cy="167.0" r="5.7"/><circle cx="912.6" cy="163.6" r="5.8"/><circle cx="913.4" cy="163.8" r="6.1"/><circle cx="913.5" cy="158.9" r="6.3"/><circle cx="914.8" cy="154.6" r="5.9"/><circle cx="917.5" cy="150.9" r="5.5"/><circle cx="916.5" cy="150.9" r="6.1"/><circle cx="917.0" cy="145.9" r="5.9"/><circle cx="920.1" cy="141.3" r="5.4"/><circle cx="918.8" cy="136.1" r="5.9"/><circle cx="920.2" cy="131.2" r="6.0"/><circle cx="921.6" cy="126.4" r="5.5"/><circle cx="949.9" cy="118.4" r="6.5"/><circle cx="952.0" cy="123.9" r="7.3"/><circle cx="951.2" cy="130.2" r="7.1"/><circle cx="973.2" cy="120.0" r="6.0"/><circle cx="1033.3" cy="113.9" r="7.2"/><circle cx="1031.6" cy="121.1" r="6.7"/><circle cx="1032.3" cy="128.1" r="6.7"/><circle cx="1052.5" cy="119.7" r="5.8"/><circle cx="1054.9" cy="125.9" r="5.8"/><circle cx="1056.9" cy="132.2" r="6.6"/><circle cx="1056.0" cy="132.5" r="6.7"/><circle cx="1056.9" cy="137.2" r="6.0"/><circle cx="1058.4" cy="141.7" r="6.2"/><circle cx="1058.8" cy="146.5" r="6.3"/><circle cx="1060.3" cy="146.3" r="6.5"/><circle cx="1058.0" cy="150.9" r="6.0"/><circle cx="1058.0" cy="155.5" r="5.7"/><circle cx="1059.5" cy="160.2" r="6.0"/><circle cx="1059.3" cy="160.7" r="6.8"/><circle cx="1062.7" cy="157.6" r="6.1"/><circle cx="1066.4" cy="154.8" r="6.1"/><circle cx="1065.1" cy="153.6" r="6.8"/><circle cx="1069.1" cy="149.6" r="6.5"/><circle cx="1072.3" cy="145.1" r="6.9"/><circle cx="1072.0" cy="144.8" r="6.7"/><circle cx="1075.2" cy="152.8" r="6.7"/><circle cx="1075.5" cy="152.4" r="6.6"/><circle cx="1080.6" cy="144.9" r="6.1"/><circle cx="1047.6" cy="123.3" r="6.4"/><circle cx="1053.5" cy="119.9" r="6.8"/><circle cx="1055.0" cy="120.8" r="5.8"/><circle cx="1056.6" cy="126.7" r="6.8"/><circle cx="1057.4" cy="132.9" r="5.9"/><circle cx="1057.0" cy="134.3" r="5.8"/><circle cx="1050.0" cy="132.4" r="6.5"/><circle cx="1050.6" cy="132.9" r="6.6"/><circle cx="1047.8" cy="128.8" r="6.4"/><circle cx="1047.6" cy="124.1" r="6.7"/></g>
<g fill="none" stroke="#bcda74" stroke-linecap="round" stroke-linejoin="round"><path d="M145.6 275.0L156.0 282.0L160.0 305.0L150.0 340.0L145.0 375.0L136.0 381.0L141.7 322.0L144.0 282.0Z" fill="#bcda74" stroke-width="17.5"/><path d="M727.0 255.0L726.0 262.0" stroke-width="11.7"/></g>
<g fill="#bcda74"><circle cx="109.0" cy="426.0" r="6.0"/><circle cx="144.9" cy="276.1" r="9.9"/><circle cx="157.0" cy="280.5" r="9.8"/><circle cx="154.3" cy="282.3" r="10.0"/><circle cx="159.0" cy="289.4" r="8.7"/><circle cx="160.3" cy="297.1" r="8.4"/><circle cx="158.6" cy="305.2" r="9.7"/><circle cx="159.5" cy="304.8" r="9.8"/><circle cx="157.5" cy="311.8" r="8.9"/><circle cx="157.6" cy="319.5" r="8.5"/><circle cx="153.0" cy="325.7" r="8.7"/><circle cx="152.7" cy="333.2" r="9.1"/><circle cx="151.9" cy="340.6" r="8.8"/><circle cx="150.9" cy="340.1" r="9.6"/><circle cx="149.5" cy="347.1" r="8.9"/><circle cx="146.1" cy="353.7" r="9.2"/><circle cx="145.5" cy="360.8" r="9.4"/><circle cx="147.9" cy="368.3" r="9.1"/><circle cx="145.3" cy="375.0" r="9.7"/><circle cx="145.4" cy="375.5" r="9.6"/><circle cx="135.9" cy="380.9" r="8.7"/><circle cx="137.5" cy="381.1" r="8.5"/><circle cx="138.0" cy="373.8" r="8.7"/><circle cx="135.4" cy="366.0" r="8.7"/><circle cx="139.2" cy="359.0" r="10.0"/><circle cx="136.8" cy="351.3" r="9.2"/><circle cx="139.5" cy="344.1" r="9.7"/><circle cx="139.0" cy="336.6" r="9.2"/><circle cx="140.4" cy="329.3" r="9.8"/><circle cx="140.7" cy="321.9" r="10.0"/><circle cx="140.8" cy="321.9" r="8.7"/><circle cx="142.9" cy="315.4" r="9.2"/><circle cx="140.8" cy="308.6" r="9.4"/><circle cx="141.1" cy="301.9" r="9.7"/><circle cx="144.1" cy="295.4" r="9.7"/><circle cx="144.2" cy="288.7" r="9.0"/><circle cx="143.6" cy="282.0" r="9.0"/><circle cx="145.6" cy="282.4" r="8.5"/><circle cx="147.2" cy="275.4" r="8.4"/><circle cx="246.2" cy="383.4" r="9.5"/><circle cx="248.2" cy="397.8" r="9.0"/><circle cx="304.8" cy="362.6" r="6.0"/><circle cx="727.8" cy="255.1" r="6.0"/><circle cx="724.9" cy="261.8" r="6.3"/></g>
<g fill="none" stroke="#c02a2a" stroke-linecap="round" stroke-linejoin="round"></g>
<g fill="#c02a2a"><circle cx="158.0" cy="378.0" r="11.0"/></g>
<g fill="none" stroke="#da2a28" stroke-linecap="round" stroke-linejoin="round"><path d="M159.0 350.0L160.0 365.0" stroke-width="21.6"/><path d="M168.0 335.0L190.0 355.0L202.0 380.0L178.0 378.0L160.0 365.0Z" fill="#da2a28" stroke-width="18.4"/><path d="M168.0 365.0L178.0 377.0L190.0 365.0L204.0 384.0" stroke-width="22.5"/><path d="M180.0 345.0L192.0 352.0L200.0 368.0" stroke-width="21.6"/><path d="M257.8 430.6L265.5 431.5L273.2 442.1" stroke-width="14.4"/><path d="M342.8 339.4L353.0 348.7L348.3 361.7L353.0 367.2" stroke-width="14.4"/><path d="M599.0 183.0L612.0 196.0L608.0 216.0L603.0 206.0Z" fill="#da2a28" stroke-width="17.5"/><path d="M665.0 258.0L675.0 273.0" stroke-width="16.2"/><path d="M956.3 126.3L962.0 132.0" stroke-width="12.6"/><path d="M967.0 140.0L958.0 138.0" stroke-width="10.8"/></g>
<g fill="#da2a28"><circle cx="159.6" cy="350.0" r="12.5"/><circle cx="161.4" cy="364.9" r="11.6"/><circle cx="168.0" cy="327.0" r="16.5"/><circle cx="167.9" cy="335.1" r="10.2"/><circle cx="172.8" cy="340.8" r="10.0"/><circle cx="179.4" cy="344.5" r="9.4"/><circle cx="185.5" cy="348.9" r="10.3"/><circle cx="189.5" cy="355.5" r="10.1"/><circle cx="191.3" cy="354.4" r="9.6"/><circle cx="192.9" cy="363.9" r="9.8"/><circle cx="199.5" cy="371.0" r="9.6"/><circle cx="200.5" cy="380.7" r="9.2"/><circle cx="201.9" cy="381.4" r="9.3"/><circle cx="194.1" cy="378.4" r="10.3"/><circle cx="185.9" cy="380.2" r="9.1"/><circle cx="177.9" cy="379.1" r="9.4"/><circle cx="178.1" cy="377.9" r="9.1"/><circle cx="171.6" cy="374.3" r="9.1"/><circle cx="167.2" cy="367.6" r="10.1"/><circle cx="159.0" cy="366.4" r="10.5"/><circle cx="158.3" cy="364.5" r="9.5"/><circle cx="164.1" cy="358.0" r="10.2"/><circle cx="165.0" cy="350.3" r="9.6"/><circle cx="164.7" cy="342.2" r="9.9"/><circle cx="166.3" cy="334.6" r="9.2"/><circle cx="168.5" cy="364.6" r="11.1"/><circle cx="178.4" cy="376.6" r="12.8"/><circle cx="178.8" cy="377.8" r="12.1"/><circle cx="190.5" cy="365.5" r="12.0"/><circle cx="191.6" cy="363.8" r="12.4"/><circle cx="197.4" cy="374.2" r="12.7"/><circle cx="202.2" cy="385.3" r="12.0"/><circle cx="179.8" cy="345.3" r="12.2"/><circle cx="192.2" cy="351.6" r="11.1"/><circle cx="191.0" cy="352.5" r="12.5"/><circle cx="194.7" cy="360.6" r="12.1"/><circle cx="198.3" cy="368.8" r="12.0"/><circle cx="257.7" cy="431.1" r="7.7"/><circle cx="265.6" cy="430.8" r="7.9"/><circle cx="266.6" cy="430.7" r="7.6"/><circle cx="268.5" cy="437.4" r="8.1"/><circle cx="272.8" cy="442.4" r="7.4"/><circle cx="255.9" cy="448.9" r="10.0"/><circle cx="264.0" cy="445.0" r="9.0"/><circle cx="343.0" cy="339.2" r="7.7"/><circle cx="347.6" cy="344.4" r="7.6"/><circle cx="352.6" cy="349.2" r="8.4"/><circle cx="354.0" cy="349.1" r="8.0"/><circle cx="349.7" cy="354.9" r="7.6"/><circle cx="348.3" cy="361.7" r="8.4"/><circle cx="349.5" cy="360.6" r="7.8"/><circle cx="353.9" cy="366.4" r="8.2"/><circle cx="597.7" cy="184.3" r="9.2"/><circle cx="606.7" cy="188.3" r="9.3"/><circle cx="611.9" cy="196.1" r="9.6"/><circle cx="612.0" cy="196.0" r="9.5"/><circle cx="609.3" cy="202.4" r="9.3"/><circle cx="609.7" cy="209.4" r="10.0"/><circle cx="609.2" cy="216.2" r="9.5"/><circle cx="607.6" cy="216.2" r="9.7"/><circle cx="601.6" cy="206.7" r="10.0"/><circle cx="602.4" cy="206.1" r="8.5"/><circle cx="600.7" cy="198.5" r="9.0"/><circle cx="598.3" cy="191.0" r="9.1"/><circle cx="598.7" cy="183.1" r="9.6"/><circle cx="665.5" cy="257.7" r="8.3"/><circle cx="670.9" cy="264.9" r="9.1"/><circle cx="673.6" cy="274.0" r="8.8"/><circle cx="668.0" cy="268.0" r="9.5"/><circle cx="754.0" cy="243.3" r="5.0"/><circle cx="956.9" cy="125.7" r="7.2"/><circle cx="962.2" cy="131.8" r="6.4"/><circle cx="966.8" cy="141.0" r="6.1"/><circle cx="962.7" cy="138.2" r="6.0"/><circle cx="958.0" cy="138.1" r="5.9"/><circle cx="1039.5" cy="125.5" r="7.5"/></g>
<line x1="28" y1="615.5" x2="1092" y2="615.5" stroke="#3c3b42" stroke-width="1"/>
<line x1="1097.5" y1="94" x2="1097.5" y2="616" stroke="#4a4950" stroke-width="1.2"/>
<g stroke="#3c3b42" stroke-width="1"><line x1="38.6" y1="616" x2="38.6" y2="623"/><line x1="150.8" y1="616" x2="150.8" y2="623"/><line x1="263.1" y1="616" x2="263.1" y2="623"/><line x1="375.4" y1="616" x2="375.4" y2="623"/><line x1="487.6" y1="616" x2="487.6" y2="623"/><line x1="599.9" y1="616" x2="599.9" y2="623"/><line x1="712.1" y1="616" x2="712.1" y2="623"/><line x1="824.4" y1="616" x2="824.4" y2="623"/><line x1="936.6" y1="616" x2="936.6" y2="623"/><line x1="1048.8" y1="616" x2="1048.8" y2="623"/></g>
<g font-size="13" fill="#9c9ca2" text-anchor="middle"><text x="38.6" y="638" textLength="25" lengthAdjust="spacingAndGlyphs">2017</text><text x="150.8" y="638" textLength="25" lengthAdjust="spacingAndGlyphs">2018</text><text x="263.1" y="638" textLength="25" lengthAdjust="spacingAndGlyphs">2019</text><text x="375.4" y="638" textLength="25" lengthAdjust="spacingAndGlyphs">2020</text><text x="487.6" y="638" textLength="25" lengthAdjust="spacingAndGlyphs">2021</text><text x="599.9" y="638" textLength="25" lengthAdjust="spacingAndGlyphs">2022</text><text x="712.1" y="638" textLength="25" lengthAdjust="spacingAndGlyphs">2023</text><text x="824.4" y="638" textLength="25" lengthAdjust="spacingAndGlyphs">2024</text><text x="936.6" y="638" textLength="25" lengthAdjust="spacingAndGlyphs">2025</text><text x="1048.8" y="638" textLength="25" lengthAdjust="spacingAndGlyphs">2026</text></g>
<g font-size="15" fill="#ececee" transform="translate(1109,0) scale(0.926,1)"><text x="0" y="118.0">$100K</text><text x="0" y="139.8">$80K</text><text x="0" y="167.9">$60K</text><text x="0" y="207.5">$40K</text><text x="0" y="275.3">$20K</text><text x="0" y="343.0">$10K</text><text x="0" y="364.8">$8K</text><text x="0" y="392.9">$6K</text><text x="0" y="432.5">$4K</text><text x="0" y="500.3">$2K</text><text x="0" y="568.0">$1K</text><text x="0" y="589.8">$800</text><text x="0" y="617.9">$600</text></g>
<text transform="translate(1158.5,339.5) rotate(90)" font-size="13.5" fill="#ececee" textLength="30.5" lengthAdjust="spacingAndGlyphs">Price</text>
<text x="418.3" y="42.5" font-size="24" font-weight="bold" fill="#ffffff" textLength="364" lengthAdjust="spacingAndGlyphs">Bitcoin: Spot Average Order Size</text>
<circle cx="349.6" cy="68.9" r="2.5" fill="#85848c"/>
<text x="363.3" y="73.1" font-size="16" fill="#ececee" textLength="47.7" lengthAdjust="spacingAndGlyphs">Normal</text>
<circle cx="438" cy="68.9" r="2.5" fill="#3a9a2c"/>
<text x="451.5" y="73.1" font-size="16" fill="#ececee" textLength="114.3" lengthAdjust="spacingAndGlyphs">Big Whale Orders</text>
<circle cx="592.6" cy="68.9" r="2.5" fill="#a9c07a"/>
<text x="605.4" y="73.1" font-size="16" fill="#ececee" textLength="129.3" lengthAdjust="spacingAndGlyphs">Small Whale Orders</text>
<circle cx="761.7" cy="68.9" r="2.5" fill="#c42a36"/>
<text x="775.3" y="73.1" font-size="16" fill="#ececee" textLength="83.8" lengthAdjust="spacingAndGlyphs">Retail Orders</text>
<text x="1020" y="658.4" font-size="11.3" fill="#8c8c92" textLength="150" lengthAdjust="spacingAndGlyphs">© CryptoQuant. All rights reserved</text>
</svg>
</body></html>
